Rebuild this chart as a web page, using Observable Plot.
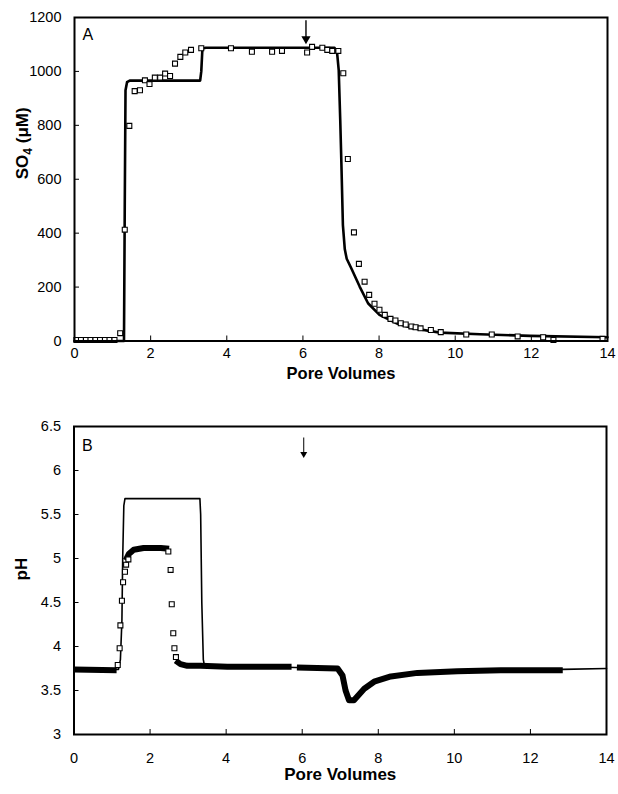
<!DOCTYPE html>
<html><head><meta charset="utf-8">
<script src="https://cdn.jsdelivr.net/npm/d3@7"></script>
<script src="https://cdn.jsdelivr.net/npm/@observablehq/plot@0.6"></script>
<style>
html,body{margin:0;padding:0;background:#fff;}
#chart{width:618px;}
#chart svg{display:block;}
</style></head><body><div id="chart"></div>
<script>
// ---------- shared ----------
const xTicks = [0, 2, 4, 6, 8, 10, 12, 14];
const xTitle = "Pore Volumes";

// ---------- Panel A: SO4 ----------
const so4Ticks = [0, 200, 400, 600, 800, 1000, 1200];
const so4Title = "SO4 (μM)";
const so4ObsX = [0.05, 0.17, 0.30, 0.42, 0.55, 0.67, 0.80, 0.92, 1.05, 1.20, 1.32, 1.44, 1.58, 1.72, 1.85, 1.97, 2.11, 2.25, 2.38, 2.51, 2.64, 2.78, 2.91, 3.06, 3.33, 4.11, 4.66, 5.19, 5.45, 6.11, 6.24, 6.51, 6.64, 6.77, 6.93, 7.06, 7.18, 7.34, 7.47, 7.62, 7.74, 7.88, 8.01, 8.15, 8.30, 8.43, 8.57, 8.70, 8.85, 8.96, 9.09, 9.36, 9.62, 10.29, 10.96, 11.64, 12.31, 12.58, 13.87];
const so4ObsY = [4, 4, 4, 4, 4, 4, 4, 4, 4, 29, 413, 798, 927, 930, 967, 953, 977, 977, 992, 983, 1029, 1054, 1070, 1080, 1086, 1086, 1073, 1073, 1076, 1070, 1091, 1088, 1080, 1076, 1076, 993, 675, 403, 286, 220, 171, 138, 116, 97, 82, 76, 66, 61, 54, 51, 47, 41, 33, 24, 24, 17, 14, 4, 8];
const so4ModelX = [0, 1.30, 1.32, 1.34, 1.38, 1.45, 3.30, 3.33, 3.36, 3.45, 6.83, 6.90, 6.94, 6.98, 7.01, 7.05, 7.10, 7.15, 7.27, 7.49, 7.71, 8.01, 8.45, 8.89, 9.60, 10.65, 11.97, 14];
const so4ModelY = [0, 0, 500, 930, 960, 966, 966, 1000, 1085, 1088, 1088, 1065, 1005, 820, 660, 430, 340, 305, 270, 202, 140, 97, 66, 47, 31, 25, 19, 14];
const arrowA = {x: 6.08, y1: 1190, y2: 1128};

// ---------- Panel B: pH ----------
const phTicks = [3, 3.5, 4, 4.5, 5, 5.5, 6, 6.5];
const phTickLabels = ["3", "3.5", "4", "4.5", "5", "5.5", "6", "6.5"];
const phTitle = "pH";
const phObsX = [1.15, 1.20, 1.22, 1.26, 1.29, 1.34, 1.37, 1.43, 2.48, 2.54, 2.57, 2.61, 2.64, 2.68];
const phObsY = [3.79, 3.98, 4.24, 4.52, 4.73, 4.85, 4.93, 4.99, 5.08, 4.87, 4.48, 4.15, 3.98, 3.88];
// densely spaced measurements (overlapping squares forming a thick band)
const phBandSeg = [1, 1, 2, 2, 2, 2, 2, 2, 3, 3, 3, 3, 3, 3, 4, 4, 4, 4, 4, 4, 4, 4, 4, 4, 4, 4, 4];
const phBandX = [0, 1.12, 1.36, 1.44, 1.57, 1.83, 2.28, 2.50, 2.67, 2.80, 2.98, 3.33, 4.03, 5.72, 5.86, 6.93, 7.06, 7.14, 7.23, 7.36, 7.63, 7.89, 8.33, 9.03, 10.08, 11.22, 12.85];
const phBandY = [3.74, 3.73, 4.98, 5.05, 5.10, 5.12, 5.12, 5.11, 3.84, 3.80, 3.78, 3.78, 3.77, 3.77, 3.76, 3.75, 3.67, 3.50, 3.39, 3.39, 3.52, 3.60, 3.66, 3.70, 3.72, 3.73, 3.73];
const phModelX = [0, 1.17, 1.22, 1.26, 1.28, 1.31, 1.34, 3.31, 3.33, 3.36, 3.40, 3.43, 5.00, 6.93, 7.06, 7.14, 7.23, 7.36, 7.63, 7.89, 8.33, 9.03, 10.08, 11.22, 12.85, 14];
const phModelY = [3.74, 3.74, 3.85, 4.30, 5.00, 5.60, 5.68, 5.68, 5.50, 4.50, 3.85, 3.78, 3.77, 3.75, 3.66, 3.50, 3.39, 3.39, 3.52, 3.60, 3.66, 3.70, 3.72, 3.73, 3.74, 3.75];
const arrowB = {x: 6.04, y1: 6.375, y2: 6.20};

// ---------- build tables ----------
const so4Obs = so4ObsX.map((x, i) => ({x, y: so4ObsY[i]}));
const so4Model = so4ModelX.map((x, i) => ({x, y: so4ModelY[i]}));
const phObs = phObsX.map((x, i) => ({x, y: phObsY[i]}));
const phBand = phBandX.map((x, i) => ({x, y: phBandY[i], seg: phBandSeg[i]}));
const phModel = phModelX.map((x, i) => ({x, y: phModelY[i]}));

const FONT = "Liberation Sans, Arial, Helvetica, sans-serif";
const W = 618, H = 397;

const sq = {symbol: "square", r: 2.8, stroke: "black", fill: "white", strokeWidth: 1.1};

const plotA = Plot.plot({
  width: W, height: H,
  marginLeft: 74, marginRight: 11, marginTop: 17, marginBottom: 56.5,
  style: {fontFamily: FONT, fontSize: "14.5px", background: "white", color: "black", overflow: "visible"},
  x: {domain: [0, 14]},
  y: {domain: [0, 1200]},
  marks: [
    Plot.axisX(xTicks, {tickSize: -5, tickPadding: 12, fontSize: 14.5, label: null, tickFormat: d => String(d)}),
    Plot.axisY(so4Ticks, {tickSize: -5, tickPadding: 18, fontSize: 14.5, label: null, tickFormat: d => String(d)}),
    Plot.line(so4Model, {x: "x", y: "y", stroke: "black", strokeWidth: 2.6, curve: "linear"}),
    Plot.dot(so4Obs, {x: "x", y: "y", ...sq}),
    Plot.link([arrowA], {x1: "x", x2: "x", y1: "y1", y2: "y2", stroke: "black", strokeWidth: 1.4}),
    Plot.dot([arrowA], {x: "x", y: "y2", symbol: "triangle", r: 3.4, fill: "black", rotate: 180, dy: 2}),
    Plot.frame({stroke: "black", strokeWidth: 2}),
    Plot.text(["A"], {frameAnchor: "top-left", dx: 8, dy: 11, textAnchor: "start", fontSize: 16}),
    Plot.text([xTitle], {frameAnchor: "bottom", dy: 37.5, fontSize: 16.5, fontWeight: "bold"}),
    Plot.text([so4Title], {frameAnchor: "left", dx: -52, rotate: -90, fontSize: 17, fontWeight: "bold"})
  ]
});

const plotB = Plot.plot({
  width: W, height: H,
  marginLeft: 73.5, marginRight: 12, marginTop: 29, marginBottom: 60,
  style: {fontFamily: FONT, fontSize: "14.5px", background: "white", color: "black", overflow: "visible"},
  x: {domain: [0, 14]},
  y: {domain: [3, 6.5]},
  marks: [
    Plot.axisX(xTicks, {tickSize: -5, tickPadding: 23, fontSize: 14.5, label: null, tickFormat: d => String(d)}),
    Plot.axisY(phTicks, {tickSize: -5, tickPadding: 18, fontSize: 14.5, label: null, tickFormat: d => phTickLabels[phTicks.indexOf(d)]}),
    Plot.line(phBand, {x: "x", y: "y", z: "seg", stroke: "black", strokeWidth: 6, strokeLinecap: "butt"}),
    Plot.line(phModel, {x: "x", y: "y", stroke: "black", strokeWidth: 1.6}),
    Plot.dot(phObs, {x: "x", y: "y", ...sq}),
    Plot.link([arrowB], {x1: "x", x2: "x", y1: "y1", y2: "y2", stroke: "black", strokeWidth: 1}),
    Plot.dot([arrowB], {x: "x", y: "y2", symbol: "triangle", r: 2.6, fill: "black", rotate: 180, dy: 1}),
    Plot.frame({stroke: "black", strokeWidth: 2}),
    Plot.text(["B"], {frameAnchor: "top-left", dx: 8, dy: 13, textAnchor: "start", fontSize: 16}),
    Plot.text([xTitle], {frameAnchor: "bottom", dy: 45, fontSize: 17, fontWeight: "bold"}),
    Plot.text([phTitle], {frameAnchor: "left", dx: -52, rotate: -90, fontSize: 17, fontWeight: "bold"})
  ]
});

const root = document.getElementById("chart");
root.appendChild(plotA);
root.appendChild(plotB);

// subscript 4 in SO4
d3.select(plotA).selectAll("text").each(function() {
  if (this.textContent === so4Title) {
    const t = d3.select(this);
    t.text(null);
    t.append("tspan").text("SO");
    t.append("tspan").attr("dy", 4).attr("font-size", 12).text("4");
    t.append("tspan").attr("dy", -4).text(" (μM)");
  }
});
</script>
</body></html>
